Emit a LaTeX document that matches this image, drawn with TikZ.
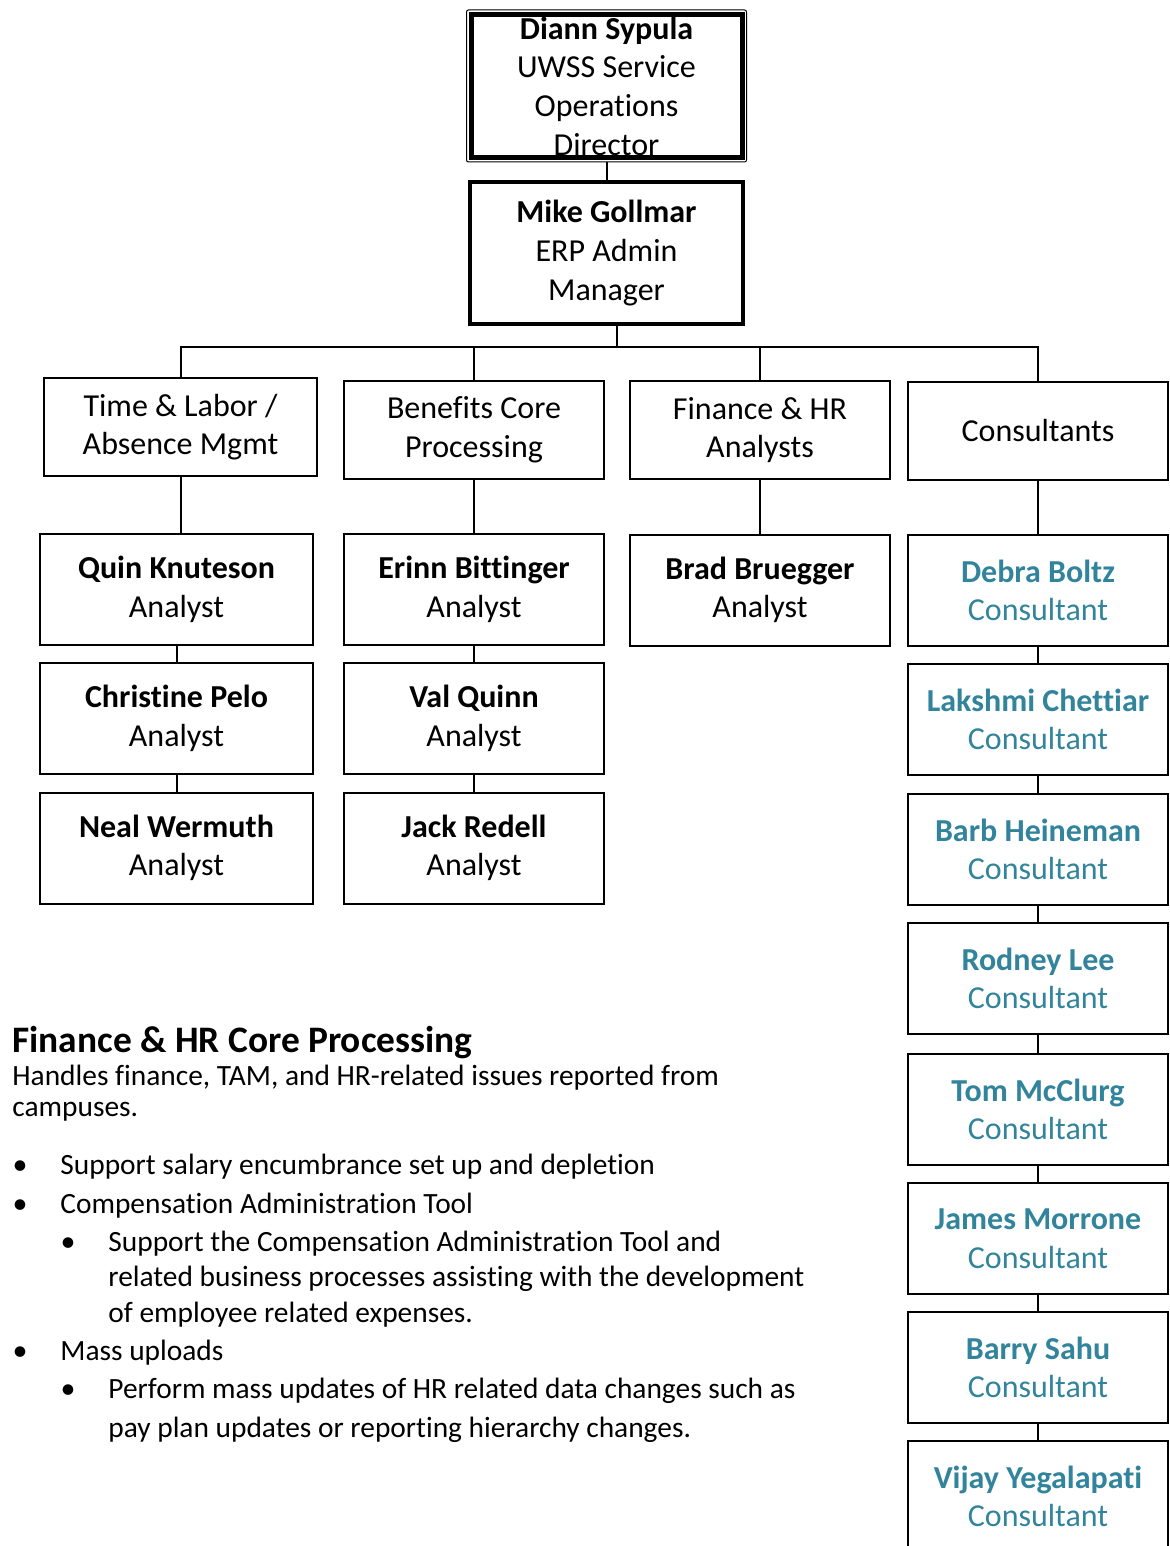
\documentclass[tikz,border=0pt]{standalone}
\usepackage{fontspec}
\setmainfont{Carlito}[Ligatures=NoCommon]
\usetikzlibrary{%
  fit,% wg. double frame round the top box
  positioning%
}
\definecolor{consteal}{RGB}{49,132,155}

\begin{document}
\begin{tikzpicture}[
    x=0.5pt,y=-0.5pt,
    every node/.style={inner sep=0pt},
    box/.style={rectangle,draw,line width=1pt,align=center,
        font=\fontsize{16}{19.3}\selectfont},
    topbox/.style={box,line width=2.5pt,minimum width=135.5pt,minimum height=71.5pt},
    mgrbox/.style={box,line width=1.8pt,minimum width=136.5pt,minimum height=71pt},
    groupbox/.style={box,minimum width=130pt,minimum height=49pt},
    wideperson/.style={box,minimum width=136.5pt,minimum height=55.5pt},
    person/.style={box,minimum width=130pt,minimum height=55.5pt},
    consultant/.style={person,text=consteal},
    link/.style={line width=1pt},
    bodytext/.style={anchor=base west,align=left,font=\fontsize{14.7}{17.75}\selectfont},
    dot/.style={anchor=base,font=\fontsize{15}{15}\selectfont}
  ]
    \useasboundingbox (0,0) rectangle (1170,1546);

    % top of the tree
    \node[topbox] (diann) at (606.5,86)
        {\textbf{Diann Sypula}\\UWSS Service\\Operations\\Director};
    \node[draw,line width=0.5pt,rounded corners=1pt,inner sep=1pt,fit=(diann)] (diannframe) {};
    \node[mgrbox] (mike) at (606.5,253) {\textbf{Mike Gollmar}\\ERP Admin\\Manager};
    \coordinate (bar) at (617,347);

    % groups
    \node[groupbox,minimum width=136.5pt] (tla) at (180.5,427) {Time \& Labor /\\Absence Mgmt};
    \node[groupbox] (ben)  at (474,430)    {Benefits Core\\Processing};
    \node[groupbox] (fin)  at (760,430)    {Finance \& HR\\Analysts};
    \node[groupbox] (cons) at (1038,430.5) {Consultants};

    % analysts
    \node[wideperson] (quin)      at (176.5,589.5) {\textbf{Quin Knuteson}\\Analyst};
    \node[wideperson] (christine) at (176.5,718.5) {\textbf{Christine Pelo}\\Analyst};
    \node[wideperson] (neal)      at (176.5,848)   {\textbf{Neal Wermuth}\\Analyst};
    \node[person] (erinn) at (474,589.5) {\textbf{Erinn Bittinger}\\Analyst};
    \node[person] (val)   at (474,718.5) {\textbf{Val Quinn}\\Analyst};
    \node[person] (jack)  at (474,848)   {\textbf{Jack Redell}\\Analyst};
    \node[person] (brad)  at (760,590)   {\textbf{Brad Bruegger}\\Analyst};

    % consultants
    \node[consultant] (debra)   at (1038,590.5)  {\textbf{Debra Boltz}\\Consultant};
    \node[consultant] (lakshmi) at (1038,719.5)  {\textbf{Lakshmi Chettiar}\\Consultant};
    \node[consultant] (barb)    at (1038,849.5)  {\textbf{Barb Heineman}\\Consultant};
    \node[consultant] (rodney)  at (1038,978.5)  {\textbf{Rodney Lee}\\Consultant};
    \node[consultant] (tom)     at (1038,1109.5) {\textbf{Tom McClurg}\\Consultant};
    \node[consultant] (james)   at (1038,1238.5) {\textbf{James Morrone}\\Consultant};
    \node[consultant] (barry)   at (1038,1367.5) {\textbf{Barry Sahu}\\Consultant};
    \node[consultant] (vijay)   at (1038,1496.5) {\textbf{Vijay Yegalapati}\\Consultant};

    % connectors
    \draw[link] (diannframe) -- (mike);
    \draw[link] (mike.south -| bar) -- (bar);
    \draw[link] (tla.north) |- (cons.north |- bar) -- (cons.north);
    \draw[link] (ben.north) -- (ben.north |- bar);
    \draw[link] (fin.north) -- (fin.north |- bar);
    \draw[link] (tla.south) -- (tla.south |- quin.north);
    \draw[link] (quin) -- (christine);
    \draw[link] (christine) -- (neal);
    \draw[link] (ben) -- (erinn);
    \draw[link] (erinn) -- (val);
    \draw[link] (val) -- (jack);
    \draw[link] (fin) -- (brad);
    \draw[link] (cons) -- (debra);
    \draw[link] (debra) -- (lakshmi);
    \draw[link] (lakshmi) -- (barb);
    \draw[link] (barb) -- (rodney);
    \draw[link] (rodney) -- (tom);
    \draw[link] (tom) -- (james);
    \draw[link] (james) -- (barry);
    \draw[link] (barry) -- (vijay);

    % description (base = baseline of the last line)
    \node[anchor=base west,font=\fontsize{18.7}{22}\selectfont\bfseries] (corehead)
        at (12,1052) {Finance \& HR Core Processing};
    \node[bodytext,font=\fontsize{14.7}{15.5}\selectfont] (coredesc) at (12,1116)
        {Handles finance, TAM, and HR-related issues reported from\\campuses.};
    \node[dot] (dot1) at (20,1174) {\textbullet};
    \node[bodytext] (item1) at (60,1174) {Support salary encumbrance set up and depletion};
    \node[dot] (dot2) at (20,1213) {\textbullet};
    \node[bodytext] (item2) at (60,1213) {Compensation Administration Tool};
    \node[dot] (dot2a) at (68,1251) {\textbullet};
    \node[bodytext] (item2a) at (108,1322)
        {Support the Compensation Administration Tool and\\related business processes assisting with the development\\of employee related expenses.};
    \node[dot] (dot3) at (20,1360) {\textbullet};
    \node[bodytext] (item3) at (60,1360) {Mass uploads};
    \node[dot] (dot3a) at (68,1398) {\textbullet};
    \node[bodytext,font=\fontsize{14.7}{19.5}\selectfont] (item3a) at (108,1437)
        {Perform mass updates of HR related data changes such as\\pay plan updates or reporting hierarchy changes.};
\end{tikzpicture}
\end{document}
